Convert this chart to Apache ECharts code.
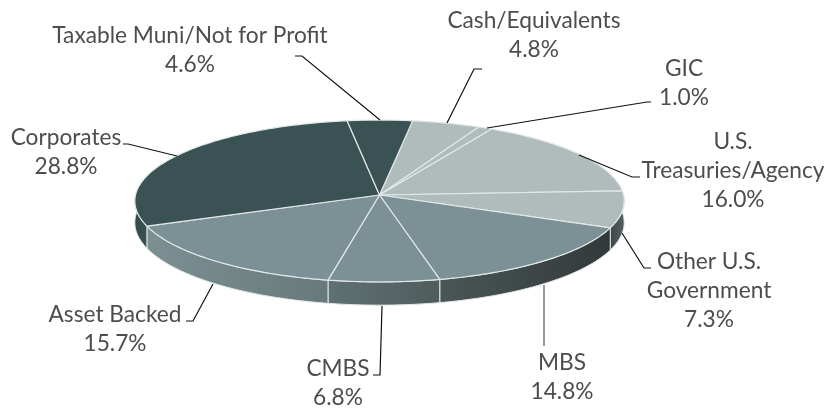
<!DOCTYPE html>
<html>
<head>
<meta charset="utf-8">
<style>
  html, body { margin: 0; padding: 0; background: #fff; }
  #chart { width: 827px; height: 409px; }
</style>
<script src="https://cdn.jsdelivr.net/npm/echarts@6/dist/echarts.min.js"></script>
</head>
<body>
<div id="chart"></div>
<script>
// ======================
// DATA (clockwise, starting at Cash/Equivalents)
// ======================
const categories = ['Cash/Equivalents', 'GIC', 'U.S.\nTreasuries/Agency', 'Other U.S.\nGovernment', 'MBS', 'CMBS', 'Asset Backed', 'Corporates', 'Taxable Muni/Not for Profit'];
const values = [4.8, 1.0, 16.0, 7.3, 14.8, 6.8, 15.7, 28.8, 4.6];

// ======================
// STYLES
// ======================
const topColors = ['#b0bcbc', '#b0bcbc', '#b0bcbc', '#b0bcbc', '#7b9196', '#7b9196', '#7b9196', '#3a5254', '#3a5254'];
const wallStops = [
    ['#b0bcbc', '#b0bcbc'], ['#b0bcbc', '#b0bcbc'], ['#4a5456', '#5a6366'], ['#3d4648', '#575f62'],
    ['#4a5656', '#33393b'], ['#5f7173', '#4f5c5c'], ['#7c9093', '#67797b'], ['#33494b', '#3a5254'], ['#3a5254', '#3a5254']
];
const edgeColor = '#e2e7e7';
const textColor = '#4d4d4d';

// ======================
// LAYOUT
// ======================
const pie = { cx: 379.5, cy: 195, rx: 244, ry: 80.5, persp: 0.074, depth: 21.5, start: 8.4 };
const labelCenters = [[534, 35], [684, 83], [733, 171], [709, 291], [562, 377], [338, 383], [115, 329], [66, 152], [190, 50]];
const leaders = [
    [[482, 69], [474, 69], [447, 123]],
    [[651, 102], [647, 102], [487, 128]],
    [[640, 177], [632, 177], [579, 155]],
    [[651, 268], [644, 268], [622, 233]],
    [[544, 346], [544, 285]],
    [[373, 375], [380, 375], [382, 306]],
    [[186, 321], [193, 321], [213, 284]],
    [[123, 144], [128, 144], [177, 156]],
    [[295, 56], [302, 56], [380, 120]]
];

// ======================
// GEOMETRY
// ======================
const total = values.reduce((a, b) => a + b, 0);
const sliceAngles = [];
values.reduce((acc, v) => {
    const next = acc + v / total * 360;
    sliceAngles.push([acc, next]);
    return next;
}, pie.start);

// angle in degrees, clockwise from the top of the pie
function project(deg, drop) {
    const t = deg * Math.PI / 180;
    const s = 1 / (1 + pie.persp * Math.cos(t));
    return [
        pie.cx + pie.rx * Math.sin(t) * s,
        pie.cy + (-pie.ry * Math.cos(t) + drop) * s
    ];
}

function arcPoints(from, to, drop) {
    const pts = [];
    const steps = Math.max(2, Math.ceil(Math.abs(to - from)));
    for (let i = 0; i <= steps; i++) {
        pts.push(project(from + (to - from) * i / steps, drop));
    }
    return pts;
}

// ======================
// RENDER
// ======================
function renderSlice(params, api) {
    const i = params.dataIndex;
    const [a0, a1] = sliceAngles[i];
    const children = [];

    // side wall, only the part facing the viewer
    const from = Math.max(a0, 84);
    const to = Math.min(a1, 276);
    if (to > from) {
        const wall = arcPoints(from, to, 0).concat(arcPoints(to, from, pie.depth));
        const xs = wall.map(p => p[0]);
        children.push({
            type: 'polygon',
            z2: 0,
            shape: { points: wall },
            style: {
                fill: {
                    type: 'linear', global: true,
                    x: Math.min(...xs), y: 0, x2: Math.max(...xs), y2: 0,
                    colorStops: [
                        { offset: 0, color: wallStops[i][0] },
                        { offset: 1, color: wallStops[i][1] }
                    ]
                },
                stroke: edgeColor,
                lineWidth: 1
            }
        });
    }

    // top face
    children.push({
        type: 'polygon',
        z2: 1,
        shape: { points: [[pie.cx, pie.cy]].concat(arcPoints(a0, a1, 0)) },
        style: { fill: topColors[i], stroke: edgeColor, lineWidth: 1.2, lineJoin: 'round' }
    });

    // leader line
    children.push({
        type: 'polyline',
        z2: 2,
        shape: { points: leaders[i] },
        style: {
            fill: null,
            stroke: categories[i] === 'MBS' ? '#777' : '#111',
            lineWidth: categories[i] === 'MBS' ? 1.5 : 1.2
        }
    });

    // label
    children.push({
        type: 'text',
        z2: 3,
        x: labelCenters[i][0],
        y: labelCenters[i][1],
        style: {
            text: categories[i] + '\n' + api.value(0).toFixed(1) + '%',
            fill: textColor,
            font: '22.7px Lato',
            lineHeight: 29,
            align: 'center',
            verticalAlign: 'middle'
        }
    });

    return { type: 'group', children };
}

const chart = echarts.init(document.getElementById('chart'), null, { renderer: 'canvas' });
chart.setOption({
    animation: false,
    backgroundColor: '#fff',
    series: [{
        type: 'custom',
        coordinateSystem: 'none',
        renderItem: renderSlice,
        data: values.map((v, i) => ({ name: categories[i], value: [v] }))
    }]
});
</script>
</body>
</html>
